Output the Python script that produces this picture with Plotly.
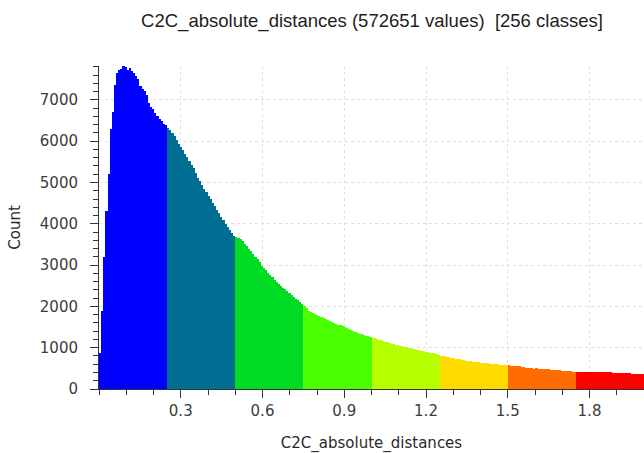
import plotly.graph_objects as go

# ---- data (256 classes over [0, 2.0]) ----
x_min = 0.0
x_max = 2.0
n_classes = 256

counts_class1 = [870, 1900, 3200, 4300, 5200, 6300, 6700, 7350, 7650, 7720, 7740, 7830,
                 7800, 7720, 7760, 7700, 7640, 7580, 7500, 7330, 7260, 7220, 7130, 6920,
                 6830, 6770, 6680, 6600, 6540, 6480, 6420, 6380]
counts_class2 = [6330, 6260, 6200, 6120, 6030, 5940, 5860, 5790, 5690, 5610, 5520, 5430,
                 5340, 5230, 5120, 5030, 4940, 4840, 4760, 4680, 4590, 4510, 4420, 4330,
                 4250, 4160, 4080, 4000, 3920, 3840, 3770, 3700]
counts_class3 = [3690, 3660, 3640, 3580, 3520, 3460, 3400, 3340, 3270, 3200, 3140, 3070,
                 2990, 2930, 2870, 2810, 2750, 2700, 2640, 2590, 2540, 2500, 2450, 2410,
                 2370, 2320, 2280, 2230, 2190, 2150, 2100, 2070]
counts_class4 = [2010, 1960, 1900, 1870, 1840, 1810, 1790, 1770, 1740, 1720, 1690, 1670,
                 1650, 1630, 1600, 1580, 1560, 1540, 1520, 1490, 1470, 1450, 1420, 1400,
                 1380, 1360, 1340, 1330, 1310, 1290, 1280, 1260]
counts_class5 = [1245, 1230, 1210, 1195, 1180, 1165, 1150, 1130, 1110, 1100, 1085, 1070,
                 1060, 1045, 1035, 1020, 1010, 995, 985, 975, 965, 950, 940, 930,
                 920, 905, 895, 880, 870, 860, 845, 835]
counts_class6 = [810, 800, 790, 780, 770, 760, 745, 735, 725, 715, 705, 695,
                 685, 678, 670, 662, 655, 650, 645, 640, 635, 628, 622, 616,
                 610, 605, 600, 595, 590, 585, 580, 575]
counts_class7 = [570, 565, 560, 550, 545, 545, 530, 530, 515, 510, 505, 500,
                 495, 500, 490, 495, 485, 480, 478, 474, 470, 465, 460, 455,
                 450, 445, 440, 435, 430, 425, 420, 415]
counts_class8 = [410, 405, 408, 410, 406, 410, 412, 408, 412, 415, 420, 418,
                 415, 410, 405, 402, 400, 398, 395, 392, 390, 388, 385, 382,
                 380, 378, 375, 372, 370, 366, 363, 360]

class_colors = ["rgb(0,0,255)", "rgb(0,109,146)", "rgb(0,219,36)", "rgb(73,255,0)",
                "rgb(182,255,0)", "rgb(255,219,0)", "rgb(255,109,0)", "rgb(255,0,0)"]

x_tick_vals = [0.3, 0.6, 0.9, 1.2, 1.5, 1.8]
x_tick_text = ["0.3", "0.6", "0.9", "1.2", "1.5", "1.8"]
y_tick_vals = [0, 1000, 2000, 3000, 4000, 5000, 6000, 7000]
y_tick_text = ["0", "1000", "2000", "3000", "4000", "5000", "6000", "7000"]

title_text = "C2C_absolute_distances (572651 values)  [256 classes]"
x_title = "C2C_absolute_distances"
y_title = "Count"

# ---- build ----
all_classes = [counts_class1, counts_class2, counts_class3, counts_class4,
               counts_class5, counts_class6, counts_class7, counts_class8]
counts = []
colors = []
for vals, col in zip(all_classes, class_colors):
    counts.extend(vals)
    colors.extend([col] * len(vals))

bw = (x_max - x_min) / n_classes
centers = [x_min + (i + 0.5) * bw for i in range(n_classes)]

tick_font = dict(family="DejaVu Sans", size=15, color="#3c3c3c")
axis_color = "#333333"
grid_color = "#e0e0e0"

fig = go.Figure(go.Bar(
    x=centers, y=counts, width=bw,
    marker=dict(color=colors, line=dict(width=0)),
    hoverinfo="x+y",
))

fig.update_layout(
    width=644, height=453,
    margin=dict(l=99, r=0, t=66, b=64),
    paper_bgcolor="white", plot_bgcolor="white",
    bargap=0, showlegend=False,
    title=dict(text=title_text, x=372 / 644, xanchor="center",
               y=1 - 21 / 453, yanchor="middle",
               font=dict(family="Liberation Sans, Arial", size=18.5, color="#1e1e1e")),
)

fig.update_xaxes(
    range=[x_min, x_max], showline=True, linecolor=axis_color, linewidth=1,
    ticks="outside", ticklen=8, tickcolor=axis_color, tickwidth=1,
    tickvals=x_tick_vals, ticktext=x_tick_text, tickfont=tick_font,
    showgrid=True, gridcolor=grid_color, griddash="dot", gridwidth=1,
    zeroline=False,
    minor=dict(ticks="outside", ticklen=5, tick0=0, dtick=0.1,
               tickcolor=axis_color, showgrid=False),
    title=dict(text=x_title, font=dict(family="DejaVu Sans", size=15, color="#2a2a2a"),
               standoff=18),
    automargin=False,
)
fig.update_yaxes(
    range=[0, 7820], showline=True, linecolor=axis_color, linewidth=1,
    ticks="outside", ticklen=8, tickcolor=axis_color, tickwidth=1,
    tickvals=y_tick_vals, ticktext=y_tick_text, tickfont=tick_font,
    ticklabelstandoff=9,
    showgrid=True, gridcolor=grid_color, griddash="dot", gridwidth=1,
    zeroline=False,
    minor=dict(ticks="outside", ticklen=5, tick0=0, dtick=200,
               tickcolor=axis_color, showgrid=False),
    title=dict(text=y_title, font=dict(family="DejaVu Sans", size=15, color="#2a2a2a"),
               standoff=15),
    automargin=False,
)

fig.write_html("out.html", config={"displayModeBar": False},
               post_script="document.body.style.margin='0px';document.body.style.padding='0px';")
